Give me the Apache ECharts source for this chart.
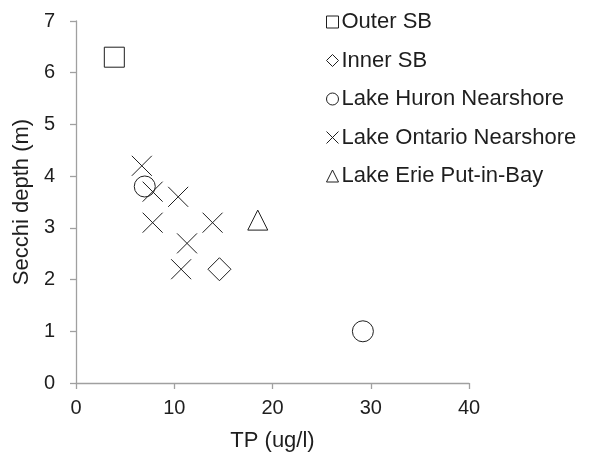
<!DOCTYPE html>
<html>
<head>
<meta charset="utf-8">
<script src="https://cdn.jsdelivr.net/npm/echarts@6/dist/echarts.min.js"></script>
<style>
  html, body { margin: 0; padding: 0; background: #fff; }
  #chart { width: 590px; height: 457px; }
</style>
</head>
<body>
<div id="chart"></div>
<script>
// データ (TP ug/l, Secchi depth m)
var outerSB = [[3.9, 6.3]];
var innerSB = [[14.6, 2.2]];
var huronNearshore = [[7.0, 3.8], [29.2, 1.0]];
var ontarioNearshore = [
  [6.7, 4.2], [7.8, 3.7], [10.4, 3.6], [7.8, 3.1],
  [13.9, 3.1], [11.3, 2.7], [10.7, 2.2]
];
var eriePutInBay = [[18.5, 3.15]];

var xTicks = [0, 10, 20, 30, 40];
var yTicks = [0, 1, 2, 3, 4, 5, 6, 7];

var crossPath = 'path://M0,0L20,20M20,0L0,20';
var ink = '#1e1e1e';

var chart = echarts.init(document.getElementById('chart'));

function seriesOf(name, data, symbol, size) {
  return {
    name: name,
    type: 'scatter',
    data: data,
    symbol: symbol,
    symbolSize: size,
    itemStyle: { color: '#fff', borderColor: ink, borderWidth: 1, opacity: 1 },
    emphasis: { disabled: true }
  };
}

var option = {
  animation: false,
  textStyle: { fontFamily: 'Liberation Sans, Arial, sans-serif', color: ink },
  grid: { left: 76, right: 121, top: 21, bottom: 72, containLabel: false },
  legend: {
    orient: 'vertical',
    left: 321,
    top: 6,
    itemWidth: 12,
    itemHeight: 12,
    itemGap: 16.5,
    itemStyle: { color: '#fff', borderColor: ink, borderWidth: 1 },
    textStyle: { fontSize: 22, lineHeight: 22, color: ink, padding: [0, 0, 0, -2] },
    data: [
      { name: 'Outer SB', icon: 'rect' },
      { name: 'Inner SB', icon: 'diamond' },
      { name: 'Lake Huron Nearshore', icon: 'circle' },
      { name: 'Lake Ontario Nearshore', icon: crossPath },
      { name: 'Lake Erie Put-in-Bay', icon: 'triangle' }
    ]
  },
  xAxis: {
    type: 'value',
    min: xTicks[0],
    max: xTicks[xTicks.length - 1],
    interval: 10,
    name: 'TP (ug/l)',
    nameLocation: 'middle',
    nameGap: 47,
    nameTextStyle: { fontSize: 22, color: ink },
    axisLine: { lineStyle: { color: '#a0a0a0', width: 1.3 } },
    axisTick: { show: true, length: 6, lineStyle: { color: '#a0a0a0', width: 1.3 } },
    axisLabel: { fontSize: 20, color: ink, margin: 15 },
    splitLine: { show: false }
  },
  yAxis: {
    type: 'value',
    min: yTicks[0],
    max: yTicks[yTicks.length - 1],
    interval: 1,
    name: 'Secchi depth (m)',
    nameLocation: 'middle',
    nameGap: 37,
    nameTextStyle: { fontSize: 22, color: ink },
    axisLine: { show: true, lineStyle: { color: '#a0a0a0', width: 1.3 } },
    axisTick: { show: true, length: 6, lineStyle: { color: '#a0a0a0', width: 1.3 } },
    axisLabel: { fontSize: 20, color: ink, margin: 21 },
    splitLine: { show: false }
  },
  series: [
    seriesOf('Outer SB', outerSB, 'rect', 20),
    seriesOf('Inner SB', innerSB, 'diamond', 23),
    seriesOf('Lake Huron Nearshore', huronNearshore, 'circle', 21),
    seriesOf('Lake Ontario Nearshore', ontarioNearshore, crossPath, 20),
    seriesOf('Lake Erie Put-in-Bay', eriePutInBay, 'triangle', 20)
  ]
};

chart.setOption(option);
</script>
</body>
</html>
